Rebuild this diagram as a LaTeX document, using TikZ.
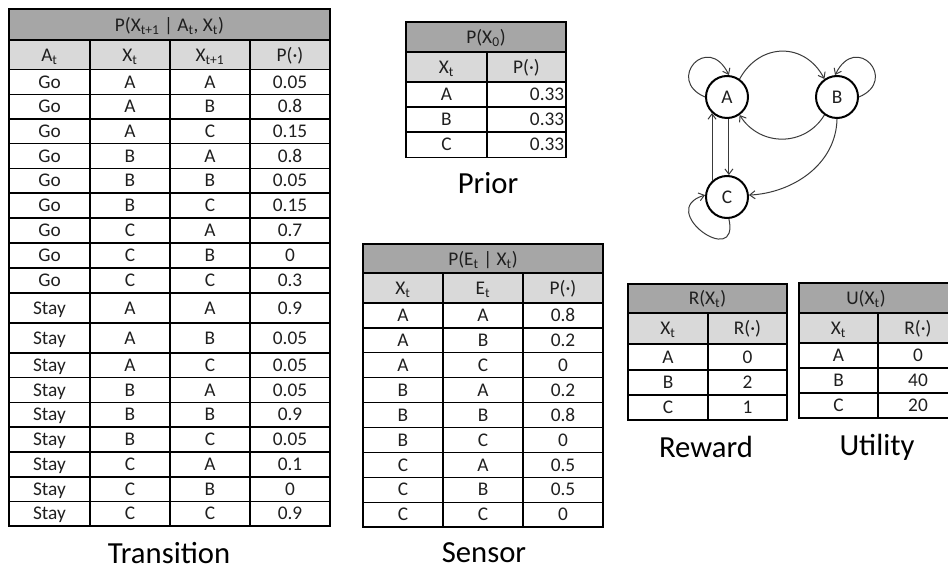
\documentclass[tikz,border=0pt]{standalone}
\usepackage{fontspec}
\setmainfont{Carlito}
\usetikzlibrary{arrows.meta}
\definecolor{hdrdark}{HTML}{A6A6A6}
\definecolor{hdrlight}{HTML}{D9D9D9}
\definecolor{ink}{HTML}{1F1F1F}
\definecolor{edgegray}{HTML}{3A3A3A}
\newcommand{\sbs}[1]{\textsubscript{#1}}
\begin{document}
\begin{tikzpicture}[x=0.75pt,y=-0.75pt,
  grid/.style={draw=black,line width=0.9pt},
  cell/.style={font=\fontsize{14.5}{16}\selectfont,text=ink,inner sep=0pt,text height=9.3pt,text depth=0pt},
  caption/.style={font=\fontsize{23}{26}\selectfont,text=black,inner sep=0pt,text height=14.8pt,text depth=0pt},
  state/.style={circle,draw=black,line width=1.5pt,minimum size=31.5pt,inner sep=0pt,font=\fontsize{14.5}{16}\selectfont,text=ink},
  link/.style={draw=edgegray,line width=0.75pt,-{Straight Barb[length=4pt,width=6pt]}}]
\useasboundingbox (0,0) rectangle (948,570);
\clip (0,0) rectangle (948,570);

% ---------- transition model ----------
\fill[hdrdark] (9,9) rectangle (330,40);
\fill[hdrlight] (9,40) rectangle (330,69.5);
\node[cell] (tr-title) at (169.5,25) {P(X\sbs{t+1} | A\sbs{t}, X\sbs{t})};
\node[cell] (tr-h1) at (49.5,55) {A\sbs{t}};
\node[cell] (tr-h2) at (130,55) {X\sbs{t}};
\node[cell] (tr-h3) at (210,55) {X\sbs{t+1}};
\node[cell] (tr-h4) at (290,55) {P(·)};
\foreach \t/\b/\ca/\cb/\cc/\cd [count=\i] in {
  69.5/94.3/Go/A/A/0.05, 94.3/119/Go/A/B/0.8, 119/143.5/Go/A/C/0.15,
  143.5/168.3/Go/B/A/0.8, 168.3/193/Go/B/B/0.05, 193/218/Go/B/C/0.15,
  218/243/Go/C/A/0.7, 243/268/Go/C/B/0, 268/293/Go/C/C/0.3,
  293/323/Stay/A/A/0.9, 323/353/Stay/A/B/0.05, 353/377.5/Stay/A/C/0.05,
  377.5/402.5/Stay/B/A/0.05, 402.5/427/Stay/B/B/0.9, 427/452/Stay/B/C/0.05,
  452/477/Stay/C/A/0.1, 477/501.5/Stay/C/B/0, 501.5/526/Stay/C/C/0.9}
{
  \draw[grid] (9,\t) -- (330,\t);
  \node[cell] (tr-\i-1) at (49.5,{(\t+\b)/2}) {\ca};
  \node[cell] (tr-\i-2) at (130,{(\t+\b)/2}) {\cb};
  \node[cell] (tr-\i-3) at (210,{(\t+\b)/2}) {\cc};
  \node[cell] (tr-\i-4) at (290,{(\t+\b)/2}) {\cd};
}
\draw[grid] (9,40) -- (330,40);
\foreach \xx in {90,170,250} \draw[grid] (\xx,40) -- (\xx,526);
\draw[grid] (9,9) rectangle (330,526);
\node[caption] (cap-tr) at (169,554) {Transition};

% ---------- prior ----------
\fill[hdrdark] (406,22) rectangle (566,52);
\fill[hdrlight] (406,52) rectangle (566,82);
\node[cell] (pr-title) at (486,37) {P(X\sbs{0})};
\node[cell] (pr-h1) at (446.5,67) {X\sbs{t}};
\node[cell] (pr-h2) at (526.5,67) {P(·)};
\foreach \t/\b/\ca/\cb [count=\i] in {82/107/A/0.33, 107/132/B/0.33, 132/157.5/C/0.33}
{
  \draw[grid] (406,\t) -- (566,\t);
  \node[cell] (pr-\i-1) at (446.5,{(\t+\b)/2}) {\ca};
  \node[cell,anchor=east] (pr-\i-2) at (564.5,{(\t+\b)/2}) {\cb};
}
\draw[grid] (406,52) -- (566,52);
\draw[grid] (487,52) -- (487,157.5);
\draw[grid] (406,22) rectangle (566,157.5);
\node[caption] (cap-pr) at (488,183.5) {Prior};

% ---------- sensor model ----------
\fill[hdrdark] (363,244) rectangle (603,273);
\fill[hdrlight] (363,273) rectangle (603,303);
\node[cell] (se-title) at (483,259) {P(E\sbs{t} | X\sbs{t})};
\node[cell] (se-h1) at (403,288) {X\sbs{t}};
\node[cell] (se-h2) at (483,288) {E\sbs{t}};
\node[cell] (se-h3) at (563,288) {P(·)};
\foreach \ca/\cb/\cc [count=\i] in {A/A/0.8, A/B/0.2, A/C/0, B/A/0.2, B/B/0.8,
  B/C/0, C/A/0.5, C/B/0.5, C/C/0}
{
  \pgfmathsetmacro{\t}{303+24.9*(\i-1)}
  \draw[grid] (363,\t) -- (603,\t);
  \node[cell] (se-\i-1) at (403,\t+12.45) {\ca};
  \node[cell] (se-\i-2) at (483,\t+12.45) {\cb};
  \node[cell] (se-\i-3) at (563,\t+12.45) {\cc};
}
\draw[grid] (363,273) -- (603,273);
\foreach \xx in {443,523} \draw[grid] (\xx,273) -- (\xx,527);
\draw[grid] (363,244) rectangle (603,527);
\node[caption] (cap-se) at (484,552.5) {Sensor};

% ---------- reward ----------
\fill[hdrdark] (628,284) rectangle (787,313);
\fill[hdrlight] (628,313) rectangle (787,344);
\node[cell] (rw-title) at (707.5,298.5) {R(X\sbs{t})};
\node[cell] (rw-h1) at (668,328.5) {X\sbs{t}};
\node[cell] (rw-h2) at (747.5,328.5) {R(·)};
\foreach \t/\b/\ca/\cb [count=\i] in {344/370/A/0, 370/395/B/2, 395/420/C/1}
{
  \draw[grid] (628,\t) -- (787,\t);
  \node[cell] (rw-\i-1) at (668,{(\t+\b)/2}) {\ca};
  \node[cell] (rw-\i-2) at (747.5,{(\t+\b)/2}) {\cb};
}
\draw[grid] (628,313) -- (787,313);
\draw[grid] (708,313) -- (708,420);
\draw[grid] (628,284) rectangle (787,420);
\node[caption] (cap-rw) at (706,448) {Reward};

% ---------- utility ----------
\fill[hdrdark] (799,283) rectangle (958,313);
\fill[hdrlight] (799,313) rectangle (958,343);
\node[cell] (ut-title) at (866,298) {U(X\sbs{t})};
\node[cell] (ut-h1) at (838.5,328) {X\sbs{t}};
\node[cell] (ut-h2) at (918,328) {R(·)};
\foreach \t/\b/\ca/\cb [count=\i] in {343/368/A/0, 368/393/B/40, 393/418/C/20}
{
  \draw[grid] (799,\t) -- (958,\t);
  \node[cell] (ut-\i-1) at (838.5,{(\t+\b)/2}) {\ca};
  \node[cell] (ut-\i-2) at (918,{(\t+\b)/2}) {\cb};
}
\draw[grid] (799,313) -- (958,313);
\draw[grid] (878,313) -- (878,418);
\draw[grid] (799,283) rectangle (958,418);
\node[caption] (cap-ut) at (877,445.5) {Utility};

% ---------- state graph ----------
\node[state] (A) at (727,97) {A};
\node[state] (B) at (837,97) {B};
\node[state] (C) at (727,197) {C};
\draw[link] (A.180) .. controls (665,80) and (708,32) .. (A.85);
\draw[link] (B.0) .. controls (899,80) and (856,32) .. (B.95);
\draw[link] (A.55) .. controls (760,42) and (805,42) .. (B.125);
\draw[link] (B.235) .. controls (805,147) and (760,147) .. (A.305);
\draw[link] (A.275) -- (C.85);
\draw[link] (C.133) -- (A.227);
\draw[link] (B.270) .. controls (836,165) and (792,193) .. (C.5);
\draw[link] (C.275) .. controls (740,270) and (655,210) .. (C.175);
\end{tikzpicture}
\end{document}
